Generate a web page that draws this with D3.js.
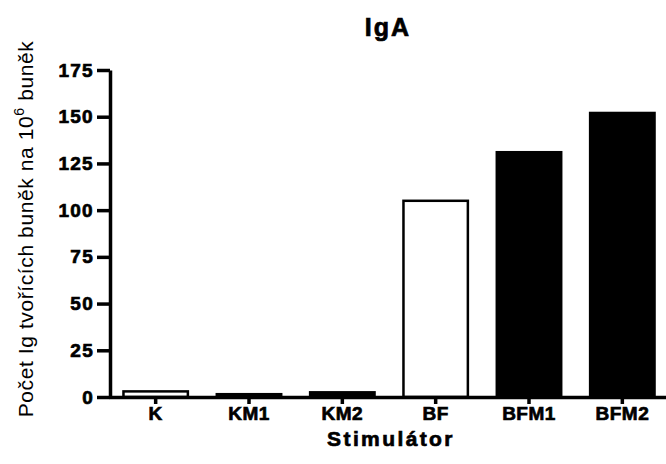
<!DOCTYPE html>
<html>
<head>
<meta charset="utf-8">
<script src="https://cdn.jsdelivr.net/npm/d3@7"></script>
<style>
  body { margin: 0; background: #fff; }
  svg { display: block; }
  text { font-family: "Liberation Sans", Arial, sans-serif; fill: #000; }
  .heavy { stroke: #000; stroke-width: 0.7px; }
</style>
</head>
<body>
<svg width="666" height="464"></svg>
<script>
// data
var categories = ["K", "KM1", "KM2", "BF", "BFM1", "BFM2"];
var values = [3, 1.5, 2.5, 105, 131, 152];
var fills = ["white", "black", "black", "white", "black", "black"];
var yTicks = [0, 25, 50, 75, 100, 125, 150, 175];

var svg = d3.select("svg"),
    width = +svg.attr("width"),
    height = +svg.attr("height");

var x = d3.scaleBand()
    .domain(categories)
    .range([109, 669])
    .paddingInner(0.31)
    .paddingOuter(0.155);

var y = d3.scaleLinear()
    .domain([0, 175])
    .range([397, 70]);

// bars
svg.append("g")
    .selectAll("rect")
    .data(values)
    .enter().append("rect")
    .attr("x", function(d, i) { return x(categories[i]); })
    .attr("width", x.bandwidth())
    .attr("y", function(d) { return y(d); })
    .attr("height", function(d) { return y(0) - y(d); })
    .attr("fill", function(d, i) { return fills[i]; })
    .attr("stroke", "#000")
    .attr("stroke-width", 2.5);

// y axis
var yAxis = svg.append("g")
    .attr("transform", "translate(110,0)")
    .call(d3.axisLeft(y).tickValues(yTicks).tickSize(13).tickSizeOuter(0).tickPadding(3));
yAxis.select(".domain").attr("stroke-width", 3.5);
yAxis.selectAll(".tick line").attr("stroke-width", 3.5);
yAxis.selectAll(".tick text")
    .classed("heavy", true)
    .attr("font-size", 19)
    .attr("font-weight", "bold")
    .attr("letter-spacing", 1.3);

// x axis
var xAxis = svg.append("g")
    .attr("transform", "translate(0," + y(0) + ")")
    .call(d3.axisBottom(x).tickSize(7).tickSizeOuter(0).tickPadding(3));
xAxis.select(".domain").attr("stroke-width", 3.5);
xAxis.selectAll(".tick line").attr("stroke-width", 3.5);
xAxis.selectAll(".tick text")
    .classed("heavy", true)
    .attr("font-size", 19)
    .attr("font-weight", "bold")
    .attr("letter-spacing", 0.5);

// title
svg.append("text")
    .attr("class", "heavy")
    .attr("x", 388)
    .attr("y", 36)
    .attr("text-anchor", "middle")
    .attr("font-size", 25)
    .attr("font-weight", "bold")
    .attr("letter-spacing", 2)
    .text("IgA");

// x title
svg.append("text")
    .attr("class", "heavy")
    .attr("x", 391)
    .attr("y", 446)
    .attr("text-anchor", "middle")
    .attr("font-size", 21)
    .attr("font-weight", "bold")
    .attr("letter-spacing", 2.4)
    .text("Stimulátor");

// y title
var yt = svg.append("text")
    .attr("transform", "translate(33,229) rotate(-90)")
    .attr("text-anchor", "middle")
    .attr("font-size", 21)
    .attr("letter-spacing", 0.6);
yt.append("tspan").text("Počet Ig tvořících buněk na 10");
yt.append("tspan").attr("font-size", 14).attr("dy", -9).text("6");
yt.append("tspan").attr("dy", 9).text(" buněk");
</script>
</body>
</html>
